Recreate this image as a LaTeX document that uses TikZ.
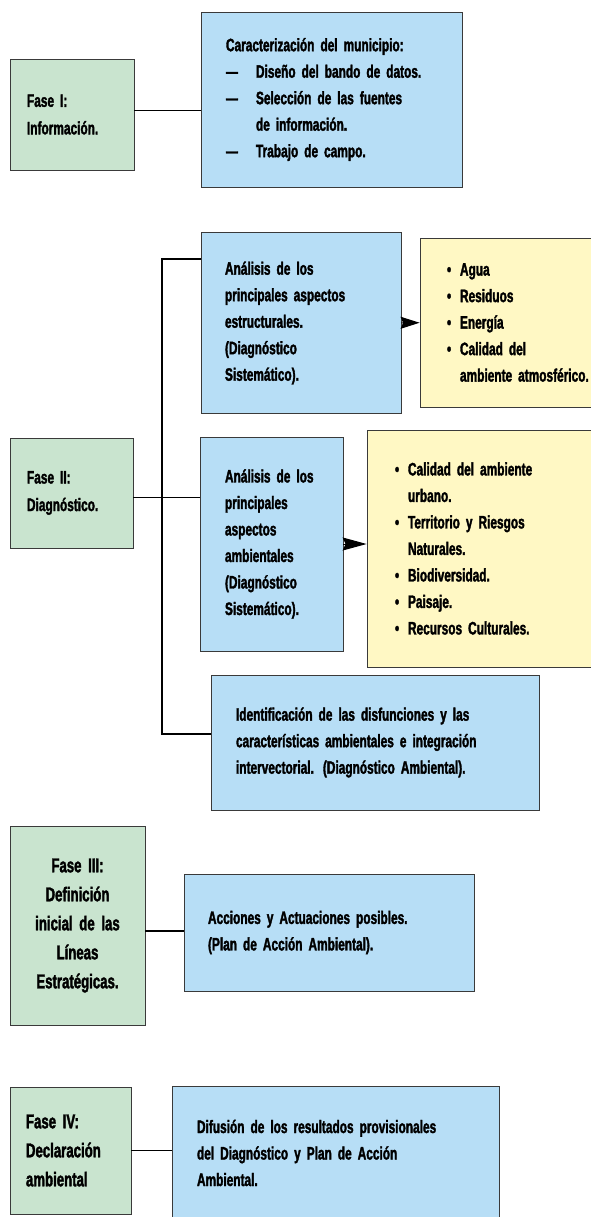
\documentclass[tikz,border=0pt]{standalone}
\usepackage{fontspec}
\setmainfont{Liberation Sans}[FakeStretch=0.66, BoldFeatures={FakeBold=1.8}]
\usetikzlibrary{arrows.meta}
\definecolor{verdefase}{HTML}{C9E4CF}
\definecolor{azultarea}{HTML}{B7DEF6}
\definecolor{amarillo}{HTML}{FFF8C4}
\definecolor{borde}{HTML}{3A3A3A}
\newcommand\vineta{\makebox[13pt][l]{\textbullet}}
\newcommand\guion{\makebox[30pt][l]{---}}
\newcommand\apretado{\fontdimen2\font=0.17em\relax}
\tikzset{
  caja/.style={draw=borde, line width=0.8pt, align=left, inner ysep=0pt,
    font=\fontsize{18}{26.5}\selectfont\bfseries\apretado},
  fase/.style={caja, fill=verdefase},
  tarea/.style={caja, fill=azultarea},
  lista/.style={caja, fill=amarillo},
  enlace/.style={line width=1.3pt},
  tronco/.style={line width=2.6pt},
  flecha/.style={line width=1pt, -{Stealth[length=19pt,width=12pt,inset=2.5pt]}}
}
\begin{document}
\begin{tikzpicture}[x=1pt,y=-1pt]
  \useasboundingbox (0,0) rectangle (591,1217);
  \node[fase, minimum height=111pt, text width=90pt, inner xsep=17pt,
    font=\fontsize{18}{27.5}\selectfont\bfseries\apretado] (fase1) at (72,114.5)
    {Fase I:\\Información.};
  \node[tarea, minimum height=175pt, text width=211pt, inner xsep=25pt] (info) at (331.5,99.5)
    {Caracterización del municipio:\\
     \guion Diseño del bando de datos.\\
     \guion Selección de las fuentes\\
     \hspace*{30pt}de información.\\
     \guion Trabajo de campo.};
  \draw[enlace] ([yshift=3.8pt]fase1.east) -- ([yshift=3.8pt]fase1.east -| info.west);

  \node[fase, minimum height=110pt, text width=89pt, inner xsep=17pt,
    font=\fontsize{18}{27.5}\selectfont\bfseries\apretado] (fase2) at (71.5,493)
    {Fase II:\\Diagnóstico.};
  \node[tarea, minimum height=181pt, text width=152pt, inner xsep=24pt] (diagA) at (301,323)
    {Análisis de los\\principales aspectos\\estructurales.\\(Diagnóstico\\Sistemático).};
  \node[lista, minimum height=169pt, text width=150pt, inner xsep=27pt] (listaA) at (522,322.5)
    {\vineta Agua\\\vineta Residuos\\\vineta Energía\\\vineta Calidad del\\
     \hspace*{13pt}ambiente atmosférico.};
  \node[tarea, minimum height=214pt, text width=93pt, inner xsep=25pt] (diagB) at (271.5,544)
    {Análisis de los\\principales\\aspectos\\ambientales\\(Diagnóstico\\Sistemático).};
  \node[lista, minimum height=237pt, text width=171pt, inner xsep=28pt] (listaB) at (480.5,548.5)
    {\vineta Calidad del ambiente\\\hspace*{13pt}urbano.\\
     \vineta Territorio y Riesgos\\\hspace*{13pt}Naturales.\\
     \vineta Biodiversidad.\\\vineta Paisaje.\\\vineta Recursos Culturales.};
  \node[tarea, minimum height=135pt, text width=278pt, inner xsep=25pt] (diagC) at (375,742.5)
    {Identificación de las disfunciones y las\\
     características ambientales e integración\\
     intervectorial. (Diagnóstico Ambiental).};
  \coordinate (ramal) at (162,497.7);
  \draw[enlace] ([yshift=-4.7pt]fase2.east) -- ([yshift=-4.7pt]fase2.east -| diagB.west);
  \draw[tronco] ([yshift=64pt]diagA.west) -| (ramal) |- ([yshift=8.5pt]diagC.west);
  \draw[flecha] (diagA) -- (listaA);
  \draw[flecha, -{Stealth[length=24pt,width=13pt,inset=3pt]}]
    (diagB.east) -- (diagB.east -| listaB.west);

  \node[fase, minimum height=199pt, text width=120pt, inner xsep=7.5pt, align=center,
    font=\fontsize{20}{29}\selectfont\bfseries\apretado] (fase3) at (77.5,925.5)
    {Fase III:\\Definición\\inicial de las\\Líneas\\Estratégicas.};
  \node[tarea, minimum height=117pt, text width=242pt, inner xsep=24pt] (accion) at (329,932.5)
    {Acciones y Actuaciones posibles.\\(Plan de Acción Ambiental).};
  \draw[enlace] ([yshift=-5.5pt]fase3.east) -- ([yshift=-5.5pt]fase3.east -| accion.west);

  \node[fase, minimum height=127pt, text width=89pt, inner xsep=16pt,
    font=\fontsize{20}{29}\selectfont\bfseries\apretado] (fase4) at (70.5,1150.5)
    {Fase IV:\\Declaración\\ambiental};
  \node[tarea, minimum height=134pt, text width=277pt, inner xsep=25pt] (difusion) at (335.5,1153)
    {Difusión de los resultados provisionales\\
     del Diagnóstico y Plan de Acción\\Ambiental.};
  \draw[enlace] (fase4.east) -- (fase4.east -| difusion.west);
\end{tikzpicture}
\end{document}
